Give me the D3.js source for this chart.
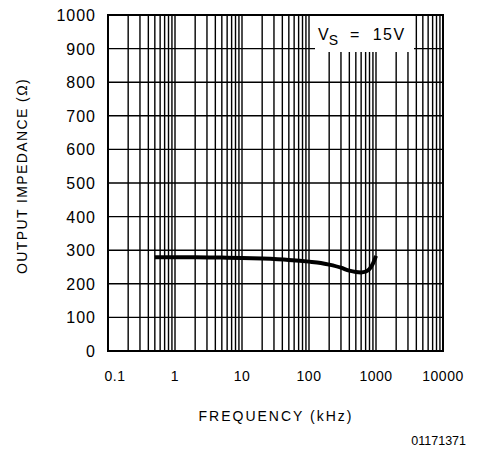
<!DOCTYPE html>
<html><head><meta charset="utf-8">
<script src="https://cdn.jsdelivr.net/npm/d3@7"></script>
<style>body{margin:0;background:#fff}svg{display:block}text{font-family:"Liberation Sans",Arial,sans-serif;fill:#000}</style>
</head><body>
<script>
const freqKHz = [0.5, 1, 2, 5, 10, 20, 50, 100, 150, 200, 300, 400, 500, 600, 700, 800, 900, 1000];
const impedance = [279, 279, 279, 278, 277, 275, 271, 266, 262, 257, 248, 239, 235, 234, 236, 244, 260, 283];
const xTickLabels = ["0.1", "1", "10", "100", "1000", "10000"];
const yTickLabels = [0, 100, 200, 300, 400, 500, 600, 700, 800, 900, 1000];
const legendLabel = ["V", "S", " = 15V"];
const xTitle = "FREQUENCY (kHz)";
const yTitle = "OUTPUT IMPEDANCE (Ω)";
const codeLabel = "01171371";

const W = 479, H = 454;
const m = {left:108, right:443, top:15, bottom:351};
const svg = d3.select("body").append("svg").attr("width", W).attr("height", H);

const x = d3.scaleLog().domain([0.1, 10000]).range([m.left, m.right]);
const y = d3.scaleLinear().domain([0, 1000]).range([m.bottom, m.top]);

// vertical grid
const vLines = [];
for (let e = -1; e < 4; e++) for (let k = 1; k <= 9; k++) vLines.push(k * Math.pow(10, e));
vLines.push(10000);
const g = svg.append("g");
g.selectAll("line.v").data(vLines).enter().append("line")
  .attr("x1", d => x(d)).attr("x2", d => x(d)).attr("y1", m.top).attr("y2", m.bottom)
  .attr("stroke", "#000").attr("stroke-width", 1.4);
g.selectAll("line.h").data(yTickLabels).enter().append("line")
  .attr("x1", m.left).attr("x2", m.right).attr("y1", d => y(d)).attr("y2", d => y(d))
  .attr("stroke", "#000").attr("stroke-width", 1.4);

// legend box (white, covers grid)
svg.append("rect").attr("x", 315).attr("y", m.top + 1).attr("width", 99).attr("height", 36).attr("fill", "#fff");

// frame
svg.append("rect").attr("x", m.left).attr("y", m.top).attr("width", m.right - m.left).attr("height", m.bottom - m.top)
  .attr("fill", "none").attr("stroke", "#000").attr("stroke-width", 2);

// curve
const line = d3.line().x((d, i) => x(freqKHz[i])).y(d => y(d)).curve(d3.curveMonotoneX);
svg.append("path").datum(impedance).attr("d", line).attr("fill", "none")
  .attr("stroke", "#000").attr("stroke-width", 4).attr("stroke-linecap", "butt");

// legend text
const lt = svg.append("text").attr("x", 318).attr("y", 40).style("font-size", "16px").attr("xml:space", "preserve");
lt.append("tspan").text(legendLabel[0]);
lt.append("tspan").attr("dy", 5).style("font-size", "14px").text(legendLabel[1]);
lt.append("tspan").attr("dy", -5).style("letter-spacing", "1.5px").text(legendLabel[2].replace(/ /g, "\u00a0\u00a0"));

// axes labels
const xVals = [0.1, 1, 10, 100, 1000, 10000];
svg.selectAll("text.xt").data(xVals).enter().append("text")
  .attr("x", (d, i) => x(d) + (i === 0 ? 7 : 0)).attr("y", 381).attr("text-anchor", "middle")
  .style("font-size", "14px").style("letter-spacing", "0.5px").text((d, i) => xTickLabels[i]);
svg.selectAll("text.yt").data(yTickLabels).enter().append("text")
  .attr("x", 96).attr("y", d => y(d) + 6).attr("text-anchor", "end")
  .style("font-size", "16px").style("letter-spacing", "1px").text(d => d);

svg.append("text").attr("x", 276).attr("y", 421).attr("text-anchor", "middle")
  .style("font-size", "14px").style("letter-spacing", "2px").text(xTitle);
svg.append("text").attr("transform", "translate(27,176) rotate(-90)").attr("text-anchor", "middle")
  .style("font-size", "14px").style("letter-spacing", "1.4px").text(yTitle);
svg.append("text").attr("x", 466).attr("y", 445).attr("text-anchor", "end")
  .style("font-size", "12.5px").text(codeLabel);
</script>
</body></html>
